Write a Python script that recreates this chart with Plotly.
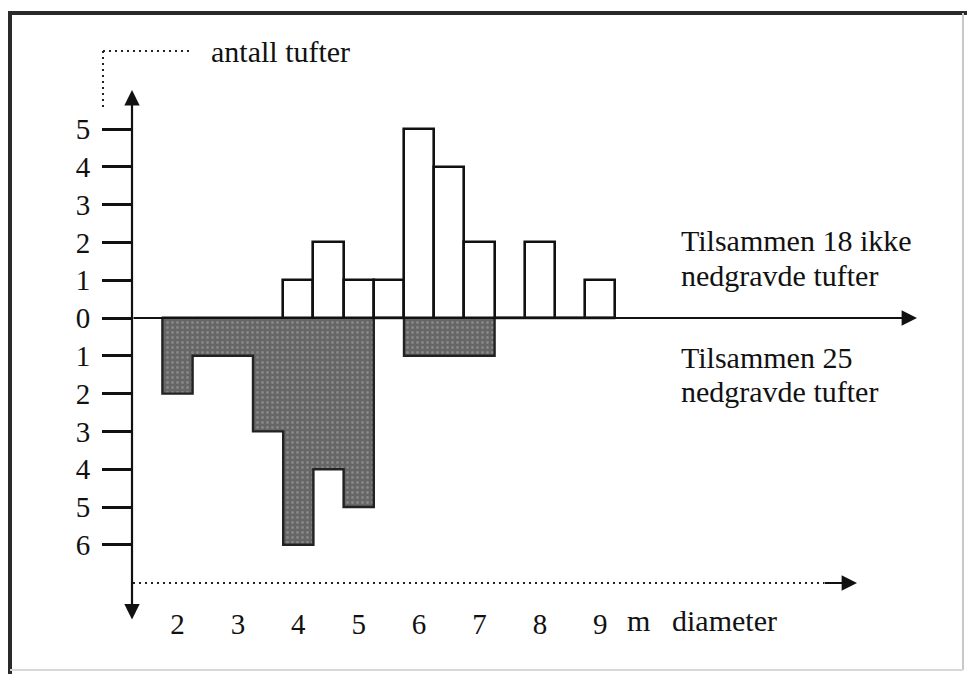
import plotly.graph_objects as go

# ---- data ----
bin_centers = [2.0, 2.5, 3.0, 3.5, 4.0, 4.5, 5.0, 5.5, 6.0, 6.5, 7.0, 7.5, 8.0, 8.5, 9.0]
ikke_nedgravde = [0, 0, 0, 0, 1, 2, 1, 1, 5, 4, 2, 0, 2, 0, 1]   # above axis
nedgravde = [2, 1, 1, 3, 6, 4, 5, 0, 1, 1, 1, 0, 0, 0, 0]        # below axis
x_tick_vals = [2, 3, 4, 5, 6, 7, 8, 9]
x_tick_text = ["2", "3", "4", "5", "6", "7", "8", "9"]
y_tick_vals = [-6, -5, -4, -3, -2, -1, 0, 1, 2, 3, 4, 5]
y_tick_text = ["6", "5", "4", "3", "2", "1", "0", "1", "2", "3", "4", "5"]
bin_width = 0.5

# ---- layout calibration (pixels) ----
W, H = 967, 674
X2_PX, PX_PER_M = 177.5, 60.4
Y0_PX, PX_PER_UNIT = 318.0, 37.8
xrange = [2 - X2_PX / PX_PER_M, 2 + (W - X2_PX) / PX_PER_M]
yrange = [-(H - Y0_PX) / PX_PER_UNIT, Y0_PX / PX_PER_UNIT]


def px(x):
    return x / W


def py(y):
    return 1 - y / H


FONT = "Liberation Serif, Times New Roman, serif"

fig = go.Figure()

# white bars (ikke nedgravde)
fig.add_trace(go.Bar(
    x=bin_centers, y=ikke_nedgravde, width=bin_width,
    marker=dict(color="white", line=dict(color="#111111", width=2.6)),
    showlegend=False, hoverinfo="skip"))

# dark bars (nedgravde)
fig.add_trace(go.Bar(
    x=bin_centers, y=[-v for v in nedgravde], width=bin_width,
    marker=dict(color="#666666", line=dict(width=0),
                pattern=dict(shape=".", fgcolor="#a8a8a8", size=5, solidity=0.25)),
    showlegend=False, hoverinfo="skip"))

# outline of dark bars (step line built from the data)
edges = [c - bin_width / 2 for c in bin_centers] + [bin_centers[-1] + bin_width / 2]
ox = [edges[0]] + edges[1:] + [edges[-1]]
oy = [0] + [-v for v in nedgravde] + [0]
fig.add_trace(go.Scatter(x=ox, y=oy, mode="lines", line=dict(color="#222222", width=2.4, shape="vh"),
                         showlegend=False, hoverinfo="skip"))

shapes = []
# frame
shapes.append(dict(type="line", xref="paper", yref="paper", x0=px(10), x1=px(10), y0=py(12), y1=py(674),
                   line=dict(color="#2a2a2a", width=4)))
shapes.append(dict(type="line", xref="paper", yref="paper", x0=px(8), x1=px(967), y0=py(13), y1=py(13),
                   line=dict(color="#2a2a2a", width=4)))
shapes.append(dict(type="line", xref="paper", yref="paper", x0=px(963), x1=px(963), y0=py(13), y1=py(670),
                   line=dict(color="#c8c8c8", width=2)))
shapes.append(dict(type="line", xref="paper", yref="paper", x0=px(10), x1=px(963), y0=py(670), y1=py(670),
                   line=dict(color="#d8d8d8", width=2)))
# top-left dotted bracket
shapes.append(dict(type="line", xref="paper", yref="paper", x0=px(103), x1=px(190), y0=py(51), y1=py(51),
                   line=dict(color="#222", width=2, dash="2px,4px")))
shapes.append(dict(type="line", xref="paper", yref="paper", x0=px(103), x1=px(103), y0=py(51), y1=py(107),
                   line=dict(color="#222", width=2, dash="2px,4px")))
# bottom dotted axis
shapes.append(dict(type="line", xref="paper", yref="paper", x0=px(133), x1=px(824), y0=py(583), y1=py(583),
                   line=dict(color="#222", width=2, dash="2px,4px")))

annotations = []
# zero axis with arrow
annotations.append(dict(xref="paper", yref="paper", x=px(917), y=py(318), ax=-(917 - 132), ay=0,
                        text="", showarrow=True, arrowhead=2, arrowsize=1.4, arrowwidth=2.2,
                        arrowcolor="#111", standoff=0))
# vertical axis with arrows at both ends
annotations.append(dict(xref="paper", yref="paper", x=px(132), y=py(90), ax=0, ay=621 - 90,
                        text="", showarrow=True, arrowhead=2, startarrowhead=2, arrowside="end+start",
                        arrowsize=1.4, startarrowsize=1.4, arrowwidth=2.2, arrowcolor="#111",
                        standoff=0, startstandoff=0))
# bottom dotted axis arrow tip
annotations.append(dict(xref="paper", yref="paper", x=px(857), y=py(583), ax=-34, ay=0,
                        text="", showarrow=True, arrowhead=2, arrowsize=1.4, arrowwidth=2.2,
                        arrowcolor="#111", standoff=0))

tf = dict(family=FONT, size=30, color="#111")


def label(text, x, y, xanchor="left"):
    annotations.append(dict(xref="paper", yref="paper", x=px(x), y=py(y), text=text, showarrow=False,
                            xanchor=xanchor, yanchor="middle", font=tf))


label("antall tufter", 209, 51)
label("Tilsammen 18 ikke", 679, 240)
label("nedgravde tufter", 679, 276)
label("Tilsammen 25", 679, 357)
label("nedgravde tufter", 679, 391)
label("m", 638, 620, "center")
label("diameter", 670, 620)

fig.update_layout(
    width=W, height=H, margin=dict(l=0, r=0, t=0, b=0),
    paper_bgcolor="white", plot_bgcolor="rgba(0,0,0,0)",
    barmode="overlay", bargap=0,
    shapes=shapes, annotations=annotations,
    xaxis=dict(range=xrange, domain=[0, 1], showgrid=False, zeroline=False, showline=False,
               tickmode="array", tickvals=x_tick_vals, ticktext=x_tick_text, ticks="",
               anchor="free", position=py(604), automargin=False,
               tickfont=dict(family=FONT, size=29, color="#111"), fixedrange=True),
    yaxis=dict(range=yrange, domain=[0, 1], showgrid=False, zeroline=False, showline=False,
               tickmode="array", tickvals=y_tick_vals, ticktext=y_tick_text,
               ticks="outside", ticklen=30, tickwidth=2.5, tickcolor="#111",
               anchor="free", position=px(132), automargin=False, ticklabelstandoff=6,
               tickfont=dict(family=FONT, size=29, color="#111"), fixedrange=True),
    font=dict(family=FONT),
)

fig.write_html("out.html", config={"displayModeBar": False},
               post_script="document.body.style.margin='0';document.body.style.padding='0';"
                           "document.documentElement.style.overflow='hidden';")
